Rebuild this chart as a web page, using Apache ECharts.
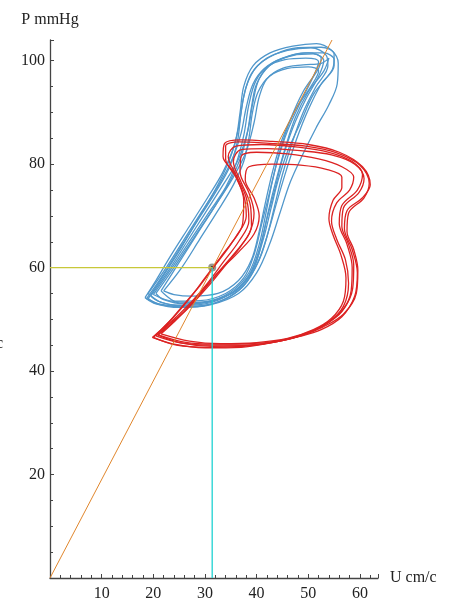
<!DOCTYPE html>
<html>
<head>
<meta charset="utf-8">
<script src="https://cdn.jsdelivr.net/npm/echarts@6/dist/echarts.min.js"></script>
<style>
    html, body { margin: 0; padding: 0; background: #fff; }
    #main { width: 449px; height: 606px; }
</style>
</head>
<body>
<div id="main"></div>
<script>
// 压力-流速回路 (P mmHg vs U cm/c)
var xTicks = [10, 20, 30, 40, 50, 60];
var yTicks = [20, 40, 60, 80, 100];

// 工作点
var workPoint = [31.4, 60];
var slopeEnd = [54.6, 104];

// 蓝色回路 (每个心动周期一条)
var blue1 = [[18.4,54.2],[20.5,57.5],[23.5,62.5],[27,68],[30.5,73.5],[33.5,78.5],[35.8,84],[36.8,90],[37.5,95],[39.3,99],[42.6,101.5],[47,102.8],[51.6,103.3],[54.5,102],[55.8,99.5],[55.6,95.5],[54,91.5],[51.5,87],[49,82],[46.5,76.5],[44.5,70.5],[42.5,64.5],[40,59],[36.5,55],[31,52.8],[25,52.3],[20.5,53],[18.4,54.2]];
var blue2 = [[19,54],[22,58.5],[25.5,64],[29,70],[32.5,76],[35,81.5],[36.5,87],[37.5,93],[39,97.5],[42,100.5],[46,102],[50.5,102.5],[53.5,101],[53.8,99],[51.5,95],[49,90],[47,84.5],[45,78],[43.5,72],[42,66],[40,60.5],[37,56],[32,53.2],[26,52.5],[21,53],[19,54]];
var blue3 = [[19.5,54.5],[23,59.5],[26.5,65],[30,70.5],[33.5,76],[36.5,81],[38.3,86.5],[39.3,92],[40.5,96.5],[43,99.5],[47,101],[51,101.3],[53,100],[52,97],[49.5,92.5],[47,87],[45,81],[43.5,75],[42,69.5],[40.5,63.5],[38.5,58.5],[35,55],[30,53],[24.5,52.7],[21,53.5],[19.5,54.5]];
var blue4 = [[20.5,55],[24,60],[28,66],[32,72],[35.5,77.5],[38,82.5],[39.5,88],[40.5,93],[42,96.5],[45,98.5],[49,99.2],[52.5,99.5],[54,100.5],[53,98],[50,94],[47.5,89],[45.5,83],[43.8,77],[42.3,71],[41,65],[39.5,60],[36.5,56],[31.5,53.5],[26,53],[22,53.8],[20.5,55]];
var blue5 = [[19,55],[22.5,60],[26,65.5],[29.5,71],[33,76.5],[35.5,81.5],[37,86],[38,91],[39.3,95.5],[41.5,98.5],[45,100.5],[49.5,101.5],[53,101.5],[55,100.2],[54.5,98],[51,93.5],[48.5,88],[46,82.5],[44.2,77],[42.8,71.5],[41.3,65.5],[39.2,59.5],[36,55.5],[31,53.5],[25.5,52.7],[21.5,53.3],[19,55]];
var blue6 = [[21.5,55.5],[25,61],[28.5,66.5],[32,72],[35,77],[37,81.5],[38.2,86],[39,91],[40,95.5],[42.5,99],[46,100.8],[50,101.5],[52.5,100.5],[52,98.5],[49,94],[46.5,88.5],[44.5,82.5],[43,76.5],[41.8,70.5],[40.5,64.5],[38.5,59],[35,55.3],[30,53.4],[25,53.2],[21.5,55.5]];
var blue7 = [[18.7,54],[21.5,58],[25,63.5],[28.5,69],[32,74.5],[34.8,79.5],[36.3,84.5],[37,90],[38,95],[40,98.8],[43.5,101.2],[48,102.5],[52.5,102.6],[55,101.3],[55,99],[52.5,95.5],[50,90.5],[47.8,85],[45.8,79],[44,73],[42.3,67],[40.5,61.5],[37.5,56.5],[33,53.5],[27,52.4],[21.5,52.8],[18.7,54]];
var blue8 = [[22,55.5],[25.5,60],[29,65.5],[32.5,71],[35.5,76],[37.5,80.5],[38.5,85],[39.2,90],[40.3,94],[42.5,97],[46,98.5],[50,98.8],[52,98],[50.5,95],[47.5,90.5],[45,85],[43.2,79],[41.8,73],[40.5,67],[39,61.5],[36.5,57.5],[32.5,55],[27.5,54.5],[24,54.8],[22,55.5]];
var blue9 = [[20,54.8],[23.5,59.8],[27.5,65.8],[31,71],[34,75.5],[36,80],[37.5,85.5],[38.5,91.5],[39.8,96],[42,98.8],[45.5,100.2],[49.5,100.5],[52,99.8],[51,97],[48.5,92],[46,86.5],[44,80.5],[42.5,74.5],[41,68.5],[39.5,62.5],[37.5,58],[34,55],[29,53.6],[24,53.5],[20,54.8]];

// 红色回路
var red1 = [[19.8,46.5],[24,45.2],[30,44.5],[37,44.6],[43,45.5],[48,46.6],[52.5,48],[56.5,50.5],[59,54.5],[59.5,59],[58.5,63.5],[57,67.5],[57.5,71],[60.5,73.5],[62,76],[60.5,79.5],[56,82.3],[50,83.8],[43,84.4],[37,84.7],[33.8,84],[33.5,81.5],[35.5,78.5],[37.5,74],[38,70],[36,66],[33,62],[30,58],[27,54],[24,50.5],[21.5,48],[19.8,46.5]];
var red2 = [[20.5,46.8],[25,45.5],[31,45],[38,45],[44,45.8],[49,47],[53,48.8],[56.5,51.5],[58.3,55.5],[58.5,60],[57.5,64.5],[56,68.5],[56.5,72],[59.5,75],[60.5,78],[58.5,80.5],[54,82.3],[48,83.3],[41,83.8],[36,83.5],[34.5,81.5],[36,78],[38,73.5],[38.5,69],[36.5,65],[33.5,61],[30.5,57],[27.5,53.5],[24.5,50.5],[22,48.3],[20.5,46.8]];
var red3 = [[21,47],[26,45.6],[32,45.2],[39,45.3],[45,46],[50,47.5],[54,49.5],[56.8,52.5],[57.8,57],[57.2,61.5],[55.5,65.5],[54.5,69],[55.5,72.5],[58,75],[58.8,77.5],[56.5,79.5],[52,81],[46,82],[40,82.3],[37,81.5],[36.8,78.5],[38.5,74.5],[39.5,70.5],[38.5,66.5],[35.5,62.5],[32,58.5],[29,55],[26,51.5],[23,49],[21,47]];
var red4 = [[21.5,47.2],[27,45.8],[33,45.3],[40,45.5],[46,46.3],[51,48],[54.5,50.2],[56.8,53.5],[57.3,58],[56.3,62.5],[54.8,66.3],[54,69.5],[54.8,73],[56.5,75.5],[56.5,77.5],[53.5,79],[48.5,79.8],[43,80],[38.5,79.5],[37.8,77],[39.5,73.5],[40.5,70],[39.5,66.5],[36.5,63],[33,59.5],[30,56],[27,52.5],[24,49.5],[21.5,47.2]];
var red5 = [[20,46.5],[24.5,45],[30.5,44.6],[37.5,44.8],[43.5,45.6],[48.5,46.8],[52.8,48.5],[56.8,51],[59.3,55],[59.6,59.5],[58.8,63.5],[57.5,67],[57.8,70.5],[60.8,73.5],[61.8,76.3],[60,79.8],[55.5,82.2],[49.5,83.5],[42.5,84],[36.5,84.3],[34,83.5],[34,81],[36,77.5],[37.5,73],[37.3,68.5],[35,64.5],[32,60.5],[29,56.5],[26,53],[23,49.5],[20,46.5]];
var red6 = [[20.8,47],[25.5,45.4],[31.5,44.8],[38.5,45],[44.5,45.8],[49.5,47.2],[53.5,49.2],[56.8,52],[58.6,56],[58.8,60.5],[57.8,64.5],[56.5,68],[56.8,71.5],[59.8,74.5],[60.8,77.2],[59,80],[54.5,81.8],[48.5,82.6],[42,83],[37,82.8],[35.5,80.5],[37,76.5],[38.8,72],[39,68],[37,64.2],[34,60.5],[31,56.8],[28,53.5],[25,50.5],[22.5,48.3],[20.8,47]];

var blueLoops = [blue1, blue2, blue3, blue4, blue5, blue6, blue7, blue8, blue9];
var redLoops = [red1, red2, red3, red4, red5, red6];

var myChart = echarts.init(document.getElementById('main'));

var font = 'Liberation Serif';
var series = [];
blueLoops.forEach(function(d) {
    series.push({
        type: 'line', data: d, smooth: 0.35, symbol: 'none', silent: true,
        lineStyle: { color: '#5097cb', width: 1.3 }
    });
});
redLoops.forEach(function(d) {
    series.push({
        type: 'line', data: d, smooth: 0.35, symbol: 'none', silent: true,
        lineStyle: { color: '#dc2222', width: 1.3 }
    });
});
// 辅助线
series.push({
    type: 'line', data: [[0, 0], slopeEnd], symbol: 'none',
    lineStyle: { color: '#e0862c', width: 1 }
});
series.push({
    type: 'line', data: [[0, workPoint[1]], workPoint], symbol: 'none',
    lineStyle: { color: '#c8c83a', width: 1.3 }
});
series.push({
    type: 'line', data: [[workPoint[0], 0], workPoint], symbol: 'none',
    lineStyle: { color: '#1ed2d2', width: 1.3 }
});
series.push({
    type: 'scatter', data: [workPoint], symbolSize: 8,
    itemStyle: { color: '#7d7d70' }
});
series.push({
    type: 'scatter', data: [workPoint], symbolSize: 3,
    itemStyle: { color: '#000' }
});

var option = {
    animation: false,
    backgroundColor: '#fff',
    grid: { left: 50, right: 71, top: 40, bottom: 28 },
    xAxis: {
        type: 'value', min: 0, max: 63.5, interval: 10,
        name: 'U cm/c', nameLocation: 'end', nameGap: 12,
        nameTextStyle: { fontFamily: font, fontSize: 16, color: '#222' },
        axisLine: { lineStyle: { color: '#444', width: 1.3 } },
        axisTick: { inside: true, length: 4, lineStyle: { color: '#444' } },
        minorTick: { show: true, splitNumber: 5, length: 3, lineStyle: { color: '#444' } },
        splitLine: { show: false },
        axisLabel: {
            margin: 8, fontFamily: font, fontSize: 16, color: '#222',
            formatter: function(v) { return xTicks.indexOf(v) >= 0 ? v : ''; }
        }
    },
    yAxis: {
        type: 'value', min: 0, max: 104, interval: 20,
        name: 'P mmHg', nameLocation: 'end', nameGap: 12,
        nameTextStyle: { fontFamily: font, fontSize: 16, color: '#222' },
        axisLine: { lineStyle: { color: '#444', width: 1.3 } },
        axisTick: { inside: true, length: 4, lineStyle: { color: '#444' } },
        minorTick: { show: true, splitNumber: 4, length: 3, lineStyle: { color: '#444' } },
        splitLine: { show: false },
        axisLabel: {
            margin: 5, fontFamily: font, fontSize: 16, color: '#222',
            formatter: function(v) { return yTicks.indexOf(v) >= 0 ? v : ''; }
        }
    },
    graphic: [{
        type: 'text', left: -4, top: 336,
        style: { text: 'c', font: '16px "Liberation Serif"', fill: '#222' }
    }],
    series: series
};
myChart.setOption(option);
</script>
</body>
</html>
